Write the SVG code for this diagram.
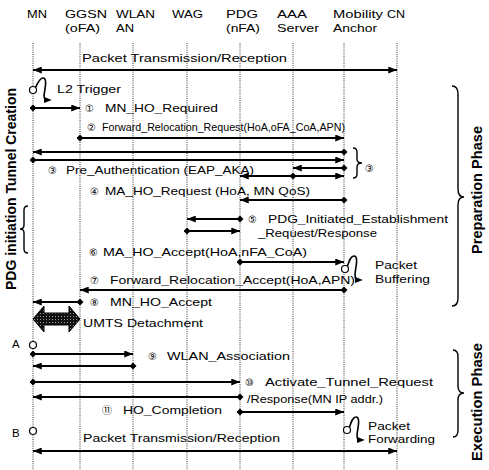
<svg xmlns="http://www.w3.org/2000/svg" width="489" height="470" viewBox="0 0 489 470">
<style>
text{font-family:"Liberation Sans",Arial,sans-serif;font-size:11.5px;fill:#000}
.hd{font-size:11.5px}
.num{font-family:"DejaVu Sans","Noto Sans CJK JP",sans-serif;font-size:10px}
.vt{font-size:14px;font-weight:bold}
.life{stroke:#333;stroke-width:1;stroke-dasharray:1 1.2;fill:none}
.msg{stroke:#000;stroke-width:1.8;fill:none}
.brace{stroke:#000;stroke-width:1.4;fill:none}
.sq{stroke:#000;stroke-width:1.6;fill:none}
.pt{fill:#fff;stroke:#000;stroke-width:1.2}
</style>
<defs>
<marker id="ah" viewBox="0 0 10 8" refX="10" refY="4" markerWidth="9" markerHeight="7" markerUnits="userSpaceOnUse" orient="auto-start-reverse"><path d="M0,0 L10,4 L0,8 z" fill="#000"/></marker>
<marker id="dm" viewBox="0 0 8 8" refX="4" refY="4" markerWidth="7" markerHeight="7" markerUnits="userSpaceOnUse" orient="auto"><path d="M4,0 L8,4 L4,8 L0,4 z" fill="#000"/></marker>
<marker id="sah" viewBox="0 0 10 8" refX="4" refY="4" markerWidth="8" markerHeight="7" markerUnits="userSpaceOnUse" orient="auto"><path d="M0,0 L10,4 L0,8 z" fill="#000"/></marker>
<pattern id="dots" width="3" height="3" patternUnits="userSpaceOnUse"><rect width="3" height="3" fill="#111"/><rect x="1" y="1" width="1" height="1" fill="#999"/></pattern>
</defs>

<g id="MN"><text class="hd" x="27" y="18" textLength="20" lengthAdjust="spacingAndGlyphs">MN</text><line class="life" x1="33" y1="43" x2="33" y2="470"/></g>
<g id="GGSN"><text class="hd" x="65" y="18" textLength="42" lengthAdjust="spacingAndGlyphs">GGSN</text><text class="hd" x="65" y="32" textLength="35" lengthAdjust="spacingAndGlyphs">(oFA)</text><line class="life" x1="80" y1="43" x2="80" y2="470"/></g>
<g id="WLAN_AN"><text class="hd" x="116" y="18" textLength="39" lengthAdjust="spacingAndGlyphs">WLAN</text><text class="hd" x="116" y="32" textLength="18" lengthAdjust="spacingAndGlyphs">AN</text><line class="life" x1="133" y1="43" x2="133" y2="470"/></g>
<g id="WAG"><text class="hd" x="172" y="18" textLength="31" lengthAdjust="spacingAndGlyphs">WAG</text><line class="life" x1="187" y1="43" x2="187" y2="470"/></g>
<g id="PDG"><text class="hd" x="226" y="18" textLength="32" lengthAdjust="spacingAndGlyphs">PDG</text><text class="hd" x="226" y="32" textLength="34" lengthAdjust="spacingAndGlyphs">(nFA)</text><line class="life" x1="240" y1="43" x2="240" y2="470"/></g>
<g id="AAA"><text class="hd" x="277" y="18" textLength="30" lengthAdjust="spacingAndGlyphs">AAA</text><text class="hd" x="277" y="32" textLength="42" lengthAdjust="spacingAndGlyphs">Server</text><line class="life" x1="293" y1="43" x2="293" y2="470"/></g>
<g id="MA"><text class="hd" x="333" y="18" textLength="50" lengthAdjust="spacingAndGlyphs">Mobility</text><text class="hd" x="333" y="32" textLength="44" lengthAdjust="spacingAndGlyphs">Anchor</text><line class="life" x1="344" y1="43" x2="344" y2="470"/></g>
<g id="CN"><text class="hd" x="387" y="18" textLength="18" lengthAdjust="spacingAndGlyphs">CN</text><line class="life" x1="397" y1="43" x2="397" y2="470"/></g>

<g id="connectors">
<line class="msg" x1="33" y1="70" x2="397" y2="70" marker-start="url(#ah)" marker-end="url(#ah)"/>
<line class="msg" x1="33" y1="108" x2="80" y2="108" marker-start="url(#dm)" marker-end="url(#ah)"/>
<line class="msg" x1="80" y1="138" x2="344" y2="138" marker-start="url(#dm)" marker-end="url(#ah)"/>
<line class="msg" x1="344" y1="152" x2="33" y2="152" marker-start="url(#dm)" marker-end="url(#ah)"/>
<line class="msg" x1="33" y1="160" x2="344" y2="160" marker-start="url(#dm)" marker-end="url(#ah)"/>
<line class="msg" x1="344" y1="168" x2="293" y2="168" marker-start="url(#dm)" marker-end="url(#ah)"/>
<line class="msg" x1="293" y1="176" x2="240" y2="176" marker-start="url(#dm)" marker-end="url(#ah)"/>
<line class="msg" x1="293" y1="176" x2="344" y2="176" marker-end="url(#ah)"/>
<line class="msg" x1="344" y1="200" x2="240" y2="200" marker-start="url(#dm)" marker-end="url(#ah)"/>
<line class="msg" x1="240" y1="219" x2="187" y2="219" marker-start="url(#dm)" marker-end="url(#ah)"/>
<line class="msg" x1="187" y1="231" x2="240" y2="231" marker-start="url(#dm)" marker-end="url(#ah)"/>
<line class="msg" x1="240" y1="262" x2="344" y2="262" marker-start="url(#dm)" marker-end="url(#ah)"/>
<line class="msg" x1="344" y1="290" x2="80" y2="290" marker-start="url(#dm)" marker-end="url(#ah)"/>
<line class="msg" x1="80" y1="302" x2="33" y2="302" marker-start="url(#dm)" marker-end="url(#ah)"/>
<line class="msg" x1="33" y1="354" x2="133" y2="354" marker-start="url(#dm)" marker-end="url(#ah)"/>
<line class="msg" x1="133" y1="366" x2="33" y2="366" marker-start="url(#dm)" marker-end="url(#ah)"/>
<line class="msg" x1="33" y1="382" x2="240" y2="382" marker-start="url(#dm)" marker-end="url(#ah)"/>
<line class="msg" x1="240" y1="397" x2="33" y2="397" marker-start="url(#dm)" marker-end="url(#ah)"/>
<line class="msg" x1="240" y1="412" x2="344" y2="412" marker-start="url(#dm)" marker-end="url(#ah)"/>
<line class="msg" x1="33" y1="451" x2="397" y2="451" marker-start="url(#ah)" marker-end="url(#ah)"/>
<polygon points="33,319 44,306 44,313 69,313 69,306 80,319 69,332 69,325 44,325 44,332" fill="url(#dots)" stroke="#000" stroke-width="1"/>
</g>

<g id="labels">
<text x="82" y="62" textLength="205" lengthAdjust="spacingAndGlyphs">Packet Transmission/Reception</text>
<text x="57" y="93" textLength="64" lengthAdjust="spacingAndGlyphs">L2 Trigger</text>
<text class="num" x="85" y="112">①</text><text x="105" y="112" textLength="113" lengthAdjust="spacingAndGlyphs">MN_HO_Required</text>
<text class="num" x="87" y="131">②</text><text x="102" y="131" textLength="243" lengthAdjust="spacingAndGlyphs">Forward_Relocation_Request(HoA,oFA_CoA,APN)</text>
<text class="num" x="48" y="174">③</text><text x="66" y="174" textLength="188" lengthAdjust="spacingAndGlyphs">Pre_Authentication (EAP_AKA)</text>
<text class="num" x="365" y="172">③</text>
<text class="num" x="90" y="195">④</text><text x="105" y="195" textLength="205" lengthAdjust="spacingAndGlyphs">MA_HO_Request (HoA, MN QoS)</text>
<text class="num" x="248" y="223">⑤</text><text x="268" y="223" textLength="180" lengthAdjust="spacingAndGlyphs">PDG_Initiated_Establishment</text>
<text x="258" y="237" textLength="119" lengthAdjust="spacingAndGlyphs">_Request/Response</text>
<text class="num" x="89" y="256">⑥</text><text x="103" y="256" textLength="204" lengthAdjust="spacingAndGlyphs">MA_HO_Accept(HoA,nFA_CoA)</text>
<text x="375" y="269" textLength="42" lengthAdjust="spacingAndGlyphs">Packet</text>
<text x="375" y="283" textLength="55" lengthAdjust="spacingAndGlyphs">Buffering</text>
<text class="num" x="90" y="284">⑦</text><text x="110" y="284" textLength="245" lengthAdjust="spacingAndGlyphs">Forward_Relocation_Accept(HoA,APN)</text>
<text class="num" x="90" y="306">⑧</text><text x="110" y="306" textLength="102" lengthAdjust="spacingAndGlyphs">MN_HO_Accept</text>
<text x="83" y="327" textLength="120" lengthAdjust="spacingAndGlyphs">UMTS Detachment</text>
<text x="12" y="348">A</text>
<text class="num" x="148" y="360">⑨</text><text x="167" y="360" textLength="123" lengthAdjust="spacingAndGlyphs">WLAN_Association</text>
<text class="num" x="245" y="386">⑩</text><text x="265" y="386" textLength="168" lengthAdjust="spacingAndGlyphs">Activate_Tunnel_Request</text>
<text x="247" y="403" textLength="136" lengthAdjust="spacingAndGlyphs">/Response(MN IP addr.)</text>
<text class="num" x="102" y="414">⑪</text><text x="123" y="414" textLength="99" lengthAdjust="spacingAndGlyphs">HO_Completion</text>
<text x="12" y="437">B</text>
<text x="368" y="430" textLength="42" lengthAdjust="spacingAndGlyphs">Packet</text>
<text x="368" y="443" textLength="67" lengthAdjust="spacingAndGlyphs">Forwarding</text>
<text x="83" y="442" textLength="197" lengthAdjust="spacingAndGlyphs">Packet Transmission/Reception</text>
<text class="vt" transform="translate(16,189) rotate(-90)" text-anchor="middle" textLength="202" lengthAdjust="spacingAndGlyphs">PDG initiation Tunnel Creation</text>
<text class="vt" transform="translate(482,190) rotate(-90)" text-anchor="middle" textLength="128" lengthAdjust="spacingAndGlyphs">Preparation Phase</text>
<text class="vt" transform="translate(482,402) rotate(-90)" text-anchor="middle" textLength="118" lengthAdjust="spacingAndGlyphs">Execution Phase</text>
</g>

<g id="events">
<path class="sq" d="M35.5,87.5 C38,82 40,78 43,78 C47,78 45.5,86 44.5,92 C43.5,97 44,100 47,100" marker-end="url(#sah)"/>
<circle class="pt" cx="33" cy="90" r="3.5"/>
<path class="sq" d="M347.5,266 C349.5,260 351,256 354,256 C358,256 356.5,264 355.5,270 C354.5,276 355,280 358,280" marker-end="url(#sah)"/>
<circle class="pt" cx="345" cy="269" r="3.5"/>
<path class="sq" d="M349.5,427 C351.5,421 353,417 356,417 C360,417 358.5,425 357.5,431 C356.5,437 357,440 360,440" marker-end="url(#sah)"/>
<circle class="pt" cx="347" cy="430" r="3.5"/>
<circle class="pt" cx="33" cy="345" r="3.5"/>
<circle class="pt" cx="33" cy="431" r="3.5"/>
</g>

<g id="braces">
<path class="brace" d="M353,148 Q357,148 357,152 L357,159 Q357,163 362,163 Q357,163 357,167 L357,174 Q357,178 353,178"/>
<path class="brace" d="M28,206 Q24,206 24,210 L24,225 Q24,229 20,229 Q24,229 24,233 L24,249 Q24,253 28,253"/>
<path class="brace" d="M452,86 Q458,86 458,94 L458,189 Q458,197 464,197 Q458,197 458,205 L458,298 Q458,306 452,306"/>
<path class="brace" d="M453,350 Q458,350 458,357 L458,386 Q458,393 464,393 Q458,393 458,400 L458,430 Q458,437 453,437"/>
</g>
</svg>
